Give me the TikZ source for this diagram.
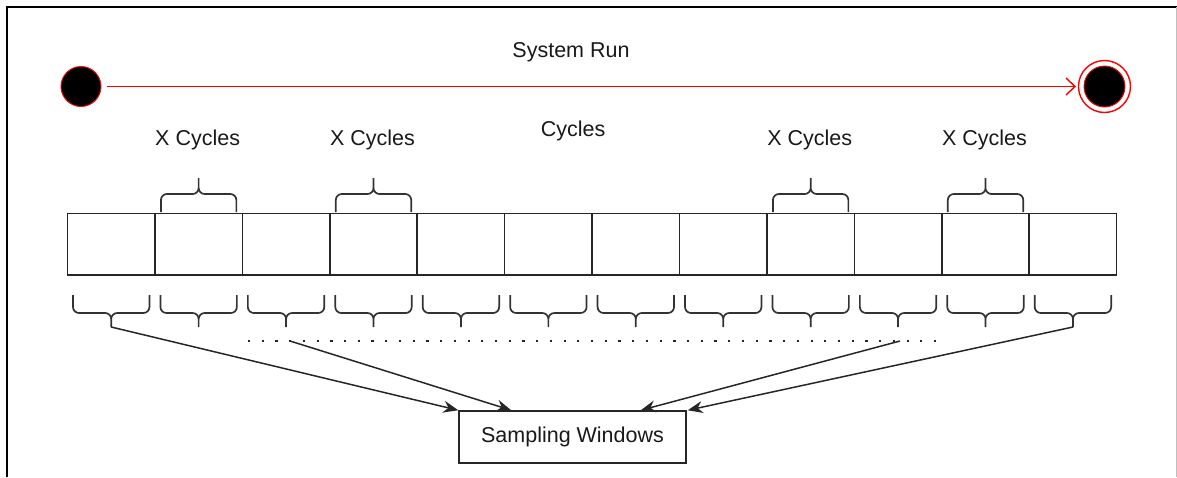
\documentclass[tikz,border=0pt]{standalone}
\usepackage{fontspec}
\setmainfont{Liberation Sans}
\usetikzlibrary{arrows.meta}
\begin{document}
\begin{tikzpicture}[x=1pt,y=-1pt,
  every node/.style={font=\fontsize{21.5}{25}\selectfont, text=black!90},
  cell/.style={draw=black!85, line width=1.6pt, minimum width=87.43pt, minimum height=61.7pt, inner sep=0pt, outer sep=0pt},
  bracepath/.style={draw=black!80, line width=1.7pt, rounded corners=6pt},
  conn/.style={draw=black!85, line width=1.5pt, -{Stealth[length=15pt,width=12pt,inset=5pt]}},
  runline/.style={draw=red, line width=1.4pt, -{Straight Barb[length=9pt,width=17pt]}},
  startdot/.style={circle, fill=black, draw=red, line width=0.9pt, minimum size=40pt, inner sep=0pt},
  enddot/.style={circle, fill=black, draw=red, line width=0.9pt, minimum size=41pt, inner sep=0pt},
  box/.style={draw=black!85, line width=1.5pt, minimum width=227pt, minimum height=52pt, inner sep=0pt}
]
\useasboundingbox (0,0) rectangle (1177,477);
% frame
\draw[black, line width=1.6pt] (7,477) -- (7,7) -- (1177,7);
\draw[black!25, line width=1pt] (1176,7) -- (1176,477);

% system run
\node (sr) at (571,52) {System Run};
\node[startdot] (start) at (81,86.5) {};
\node[enddot] (end) at (1104.5,86.5) {};
\draw[red, line width=1.4pt] (end) circle (26pt);
\draw[runline, shorten <=6pt, shorten >=2pt] (start) -- (end.west -| 1078,0) ;

% cells
\def\X{67.5}\def\W{87.43}
\foreach \i in {1,...,12} {
  \node[cell] (b\i) at ({\X+\W*(\i-0.5)},244.15) {};
}
% bottom braces
\foreach \i in {1,...,12} {
  \pgfmathsetmacro\xl{\X+\W*(\i-1)+5.5}
  \pgfmathsetmacro\xr{\X+\W*\i-5.5}
  \pgfmathsetmacro\xm{\X+\W*(\i-0.5)}
  \draw[bracepath] (\xl,295) -- (\xl,313) -- (\xm,313) -- (\xm,327)
                   (\xr,295) -- (\xr,313) -- (\xm,313) -- (\xm,327);
  \coordinate (t\i) at (\xm,327);
}
% top braces and labels
\foreach \i in {2,4,9,11} {
  \pgfmathsetmacro\xl{\X+\W*(\i-1)+6}
  \pgfmathsetmacro\xr{\X+\W*\i-6}
  \pgfmathsetmacro\xm{\X+\W*(\i-0.5)}
  \draw[bracepath] (\xl,212) -- (\xl,194) -- (\xm,194) -- (\xm,178)
                   (\xr,212) -- (\xr,194) -- (\xm,194) -- (\xm,178);
  \node (xc\i) at (\xm-1,140) {X Cycles};
}
\node (cyc) at (573,131) {Cycles};

% dotted line
\coordinate (dl) at (248,341);
\coordinate (dr) at (936,341);
\coordinate (d1) at (290,341);
\coordinate (d2) at (900,341);
\draw[black!85, line width=2.6pt, dash pattern=on 2.2pt off 11.52pt] (dl) -- (dr);

% sampling windows
\node[box] (sw) at (572.5,437) {Sampling Windows};
\draw[conn] (t1) -- (sw.north west);
\draw[conn] (d1) -- ([xshift=53pt]sw.north west);
\draw[conn] (d2) -- ([xshift=-46pt]sw.north east);
\draw[conn] (t12) -- ([xshift=1pt]sw.north east);
\end{tikzpicture}
\end{document}
